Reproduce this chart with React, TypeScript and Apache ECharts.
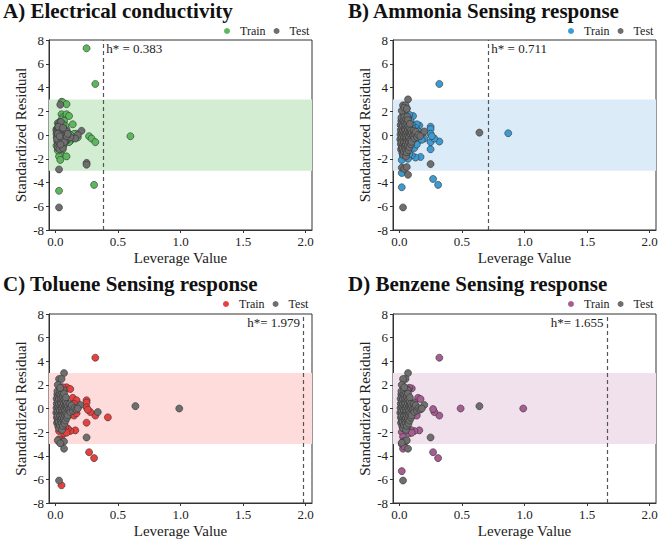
import React, { useEffect, useRef } from "react";
import * as echarts from "echarts";

const xTickValues = [0, 0.5, 1.0, 1.5, 2.0];
const panelKeys = ["A", "B", "C", "D"];
const panelTitles = [
  "A) Electrical conductivity",
  "B) Ammonia Sensing response",
  "C) Toluene Sensing response",
  "D) Benzene Sensing response",
];
const hStar = [0.383, 0.711, 1.979, 1.655];
const hStarLabels = ["h* = 0.383", "h* = 0.711", "h*= 1.979", "h*= 1.655"];
const bandLow = -3;
const bandHigh = 3;

const trainA = [
  [0.25, 7.3], [0.32, 4.3], [0.6, -0.1], [0.31, -4.2], [0.03, -4.7],
  [0.05, 2.8], [0.06, 2.75], [0.09, 2.6], [0.05, 1.75], [0.06, 1.5], [0.09, 1.75], [0.11, 1.6],
  [0.05, 1.3], [0.04, 1.1], [0.07, 1.2], [0.14, 0.9], [0.09, 0.5], [0.08, 0.8], [0.06, 0.9],
  [0.27, -0.1], [0.29, -0.3], [0.32, -0.6], [0.18, -0.2], [0.17, 0.1], [0.15, 0.1], [0.12, -0.5],
  [0.13, -0.3], [0.11, -0.6], [0.05, -1.0], [0.05, -1.3], [0.04, -1.5], [0.03, -1.8], [0.09, -1.8],
  [0.04, -2.1], [0.02, -1.3], [0.01, -0.9], [0.02, 1.0], [0.03, 0.9], [0.1, 0.2], [0.08, -0.6],
  [0.06, -1.2], [0.07, 0.1], [0.12, 0.0], [0.1, -0.4], [0.02, -0.6], [0.01, 0.5], [0.08, 0.3],
];
const testA = [
  [0.04, 2.55], [0.03, -2.9], [0.03, -6.1], [0.25, -2.35], [0.25, -2.5], [0.21, 0.35], [0.18, 0.0], [0.16, -0.3],
  [0.01, 0.1], [0.012, -0.2], [0.009, 0.4], [0.015, -0.5], [0.02, 0.6], [0.022, -0.1], [0.018, 0.3], [0.021, -0.8],
  [0.025, 0.0], [0.03, 0.5], [0.032, -0.3], [0.028, 0.2], [0.031, -0.6], [0.035, 0.8], [0.036, -1.0], [0.04, 0.1],
  [0.041, -0.4], [0.039, 0.4], [0.045, -0.2], [0.05, 0.6], [0.051, -0.7], [0.049, 0.0], [0.055, 0.3], [0.06, -0.4],
  [0.061, 0.2], [0.065, -0.9], [0.07, 0.5], [0.071, -0.2], [0.08, 0.0], [0.082, -0.5], [0.09, 0.3], [0.1, -0.3],
  [0.11, -0.1], [0.12, -0.2], [0.03, 1.0], [0.04, 0.9], [0.02, -1.1], [0.033, -1.2], [0.045, 1.1], [0.06, -1.1],
  [0.025, 0.7], [0.015, -0.3], [0.052, -0.3], [0.072, -0.6], [0.092, -0.1], [0.1, 0.1], [0.042, -0.8], [0.062, 0.6],
  [0.02, 0.1], [0.035, -0.1],
];

const coreTestBCD = [
  [0.01, 0.05], [0.012, 0.42], [0.008, -0.37], [0.011, 0.83], [0.013, -0.78], [0.016, 1.18], [0.014, -1.22],
  [0.021, 0.18], [0.019, -0.24], [0.022, 0.61], [0.018, -0.63], [0.023, 1.02], [0.021, -1.05], [0.017, 1.47],
  [0.024, -1.52], [0.031, 0.02], [0.028, 0.38], [0.033, -0.41], [0.029, 0.79], [0.032, -0.84], [0.034, 1.21],
  [0.027, -1.17], [0.035, 1.83], [0.031, -1.68], [0.041, 0.22], [0.038, -0.18], [0.043, 0.58], [0.039, -0.62],
  [0.042, 1.04], [0.044, -0.98], [0.04, 1.52], [0.037, -1.39], [0.051, 0.03], [0.048, 0.44], [0.053, -0.36],
  [0.049, 0.86], [0.052, -0.82], [0.055, 1.32], [0.05, -1.24], [0.054, -1.81], [0.061, 0.19], [0.058, -0.23],
  [0.063, 0.64], [0.059, -0.57], [0.062, 0.97], [0.064, -1.03], [0.066, 1.55], [0.06, -1.46], [0.071, -0.02],
  [0.069, 0.41], [0.073, -0.44], [0.072, 0.77], [0.068, -0.86], [0.074, -1.28], [0.07, 1.25], [0.081, 0.21],
  [0.079, -0.19], [0.083, 0.56], [0.078, -0.61], [0.082, -1.02], [0.085, 0.94], [0.091, 0.04], [0.093, 0.37],
  [0.089, -0.42], [0.094, -0.79], [0.101, 0.18], [0.104, -0.21], [0.099, -0.58], [0.112, -0.03], [0.115, 0.36],
  [0.121, -0.28], [0.124, 0.12], [0.132, 0.27], [0.141, -0.17], [0.152, 0.02], [0.168, -0.09],
];

const trainB = [
  [0.32, 4.3], [0.87, 0.15], [0.02, -4.4], [0.02, -3.2], [0.27, -3.7], [0.31, -4.2], [0.32, -0.55],
  [0.25, 0.7], [0.25, 0.5], [0.25, -0.6], [0.25, -1.2], [0.28, -0.3], [0.25, 0.1], [0.26, -0.1],
  [0.17, -1.85], [0.13, -1.9], [0.1, -1.7], [0.07, -2.0], [0.08, -1.6], [0.16, 0.8], [0.14, 0.9],
  [0.13, 0.6], [0.11, 1.6], [0.08, 1.7], [0.06, 2.25], [0.04, 1.5], [0.06, -1.5], [0.2, -0.3],
  [0.19, 0.2], [0.15, 0.3], [0.12, -0.3], [0.03, -1.8], [0.05, -1.6], [0.02, -2.1], [0.1, 0.9],
  [0.09, 1.2], [0.12, -1.1], [0.15, -0.5], [0.18, -0.4], [0.02, 1.4], [0.03, 1.6], [0.07, 1.45],
  [0.11, 0.5], [0.16, 0.0], [0.14, -0.8],
];
const testBExtra = [
  [0.07, 3.0], [0.03, 2.5], [0.05, 2.5], [0.02, 2.05], [0.04, 2.3], [0.02, -2.75], [0.04, -2.85],
  [0.06, -2.7], [0.07, -3.35], [0.03, -6.1], [0.25, -2.45], [0.64, 0.2], [0.2, 0.3], [0.06, 2.2],
];

const trainC = [
  [0.32, 4.3], [0.42, -0.75], [0.27, -3.7], [0.31, -4.2], [0.05, -6.5], [0.32, -0.6], [0.28, -0.3],
  [0.25, 0.7], [0.25, 0.5], [0.25, 0.1], [0.26, -0.1], [0.25, -1.2], [0.16, -1.85], [0.12, -1.9],
  [0.1, -1.7], [0.1, 1.7], [0.09, 1.8], [0.12, 1.65], [0.14, 0.9], [0.17, 0.7], [0.05, -2.6],
  [0.04, -1.5], [0.05, 1.5], [0.06, 1.8], [0.08, -1.6], [0.06, -1.7], [0.03, -1.9], [0.13, -0.5],
  [0.15, -0.6], [0.17, -0.4], [0.15, 0.4], [0.11, 0.3], [0.04, 0.9], [0.07, -2.1], [0.09, -2.05],
  [0.03, -2.6], [0.08, 0.7],
];
const testCExtra = [
  [0.07, 3.0], [0.03, 2.5], [0.05, 2.5], [0.02, 2.0], [0.03, -2.8], [0.05, -2.9], [0.07, -2.8],
  [0.07, -3.4], [0.02, -2.7], [0.04, -2.95], [0.03, -6.1], [0.25, -2.45], [0.64, 0.2], [0.99, 0.0],
  [0.2, 0.3], [0.34, -0.3], [0.04, 1.75], [0.18, 0.0],
];

const trainD = [
  [0.32, 4.3], [0.49, 0.0], [0.99, 0.0], [0.27, -3.7], [0.31, -4.2], [0.02, -5.3], [0.32, -0.6],
  [0.28, -0.3], [0.27, -0.05], [0.16, -1.85], [0.12, -1.9], [0.09, -1.8], [0.15, 0.9], [0.17, 0.8],
  [0.1, 1.7], [0.08, 1.75], [0.02, -2.0], [0.03, -3.4], [0.02, -3.0], [0.04, -3.2], [0.06, -1.6],
  [0.08, -2.1], [0.1, -2.05], [0.04, -1.7], [0.05, 1.4], [0.12, 0.5], [0.14, -0.6], [0.13, 0.2],
  [0.03, -2.4], [0.07, 1.6],
];
const testDExtra = [
  [0.64, 0.2], [0.03, -6.1], [0.25, -2.45], [0.2, 0.3], [0.07, 3.0], [0.05, 2.5], [0.03, 2.5],
  [0.02, 2.0], [0.03, -2.8], [0.05, -2.75], [0.07, -3.4], [0.06, -2.7], [0.02, -2.9], [0.04, 1.8],
  [0.18, 0.0],
];

const trainSets = [trainA, trainB, trainC, trainD];
const testSets = [testA, coreTestBCD.concat(testBExtra), coreTestBCD.concat(testCExtra), coreTestBCD.concat(testDExtra)];

const trainColors = ["#5cb85c", "#3d9bd3", "#e8403f", "#a65d92"];
const bandColors = ["#d3edd2", "#dcebf8", "#fddcdb", "#f0e1ed"];
const testColor = "#6e6e6e";

const FONT = "'Liberation Serif', 'DejaVu Serif', serif";

const grids = [
  { left: 49, top: 40, width: 263, height: 190 },
  { left: 393, top: 40, width: 263, height: 190 },
  { left: 49, top: 314, width: 263, height: 189 },
  { left: 393, top: 314, width: 263, height: 189 },
];
const titlePos = [
  { left: 3, top: 0 },
  { left: 348, top: 0 },
  { left: 3, top: 273 },
  { left: 348, top: 273 },
];
const legendPos = [
  { left: 224, top: 25 },
  { left: 568, top: 25 },
  { left: 223, top: 298 },
  { left: 568, top: 298 },
];

function buildOption() {
  const title: any[] = [];
  const legend: any[] = [];
  const xAxis: any[] = [];
  const yAxis: any[] = [];
  const series: any[] = [];
  panelKeys.forEach((k, i) => {
    title.push({
      text: panelTitles[i],
      left: titlePos[i].left,
      top: titlePos[i].top,
      padding: 0,
      textStyle: { fontFamily: FONT, fontWeight: "bold", fontSize: 21, color: "#111" },
    });
    legend.push({
      data: [k + "|Train", k + "|Test"],
      left: legendPos[i].left,
      top: legendPos[i].top,
      orient: "horizontal",
      itemWidth: 8,
      itemHeight: 6,
      itemGap: 8,
      padding: 0,
      icon: "circle",
      formatter: (name: string) => name.split("|")[1],
      textStyle: { fontFamily: FONT, fontSize: 12, color: "#222", padding: [0, 0, 0, 4] },
      itemStyle: { borderWidth: 0 },
    });
    xAxis.push({
      type: "value",
      gridIndex: i,
      min: -0.05,
      max: 2.05,
      name: "Leverage Value",
      nameLocation: "middle",
      nameGap: 20,
      nameTextStyle: { fontFamily: FONT, fontSize: 15, color: "#222" },
      axisLine: { show: true, onZero: false, lineStyle: { color: "#333", width: 1 } },
      axisTick: { show: true, length: 3, customValues: xTickValues, lineStyle: { color: "#333" } },
      axisLabel: {
        customValues: xTickValues,
        fontFamily: FONT,
        fontSize: 13,
        color: "#222",
        margin: 5,
        formatter: (v: number) => v.toFixed(1),
      },
      splitLine: { show: false },
    });
    yAxis.push({
      type: "value",
      gridIndex: i,
      min: -8,
      max: 8,
      interval: 2,
      name: "Standardized Residual",
      nameLocation: "middle",
      nameGap: 21,
      nameTextStyle: { fontFamily: FONT, fontSize: 15, color: "#222" },
      axisLine: { show: true, onZero: false, lineStyle: { color: "#333", width: 1 } },
      axisTick: { show: true, length: 3, lineStyle: { color: "#333" } },
      axisLabel: { fontFamily: FONT, fontSize: 13, color: "#222", margin: 5 },
      splitLine: { show: false },
    });
    series.push({
      type: "scatter",
      name: k + "|Train",
      xAxisIndex: i,
      yAxisIndex: i,
      data: trainSets[i],
      symbolSize: 7,
      itemStyle: { color: trainColors[i], borderColor: "#333", borderWidth: 0.6, opacity: 1 },
      markArea: {
        silent: true,
        itemStyle: { color: bandColors[i] },
        data: [[{ yAxis: bandLow }, { yAxis: bandHigh }]],
      },
      markLine: {
        silent: true,
        symbol: "none",
        label: { show: false },
        lineStyle: { type: [4, 3], color: "#555", width: 1.2 },
        data: [{ xAxis: hStar[i] }],
      },
    });
    series.push({
      type: "scatter",
      name: k + "|Test",
      xAxisIndex: i,
      yAxisIndex: i,
      data: testSets[i],
      symbolSize: 7,
      itemStyle: { color: testColor, borderColor: "#333", borderWidth: 0.6, opacity: 1 },
      markPoint: {
        silent: true,
        symbol: "circle",
        symbolSize: 0,
        data: [
          {
            coord: [hStar[i], 7.3],
            label: {
              show: true,
              formatter: hStarLabels[i],
              position: i >= 2 ? "left" : "right",
              distance: 3,
              fontFamily: FONT,
              fontSize: 13,
              color: "#222",
            },
          },
        ],
      },
    });
  });
  return {
    animation: false,
    backgroundColor: "#fff",
    textStyle: { fontFamily: FONT },
    title,
    legend,
    grid: grids.map((g) => ({ ...g, show: true, borderColor: "#333", borderWidth: 1, backgroundColor: "transparent" })),
    xAxis,
    yAxis,
    series,
  };
}

export default function App() {
  const ref = useRef<HTMLDivElement>(null);
  useEffect(() => {
    if (!ref.current) return;
    const chart = echarts.init(ref.current, undefined, { renderer: "svg" });
    chart.setOption(buildOption() as any);
    return () => chart.dispose();
  }, []);
  return (
    <div
      ref={ref}
      style={{ position: "fixed", left: 0, top: 0, width: 661, height: 542, background: "#fff" }}
    />
  );
}
